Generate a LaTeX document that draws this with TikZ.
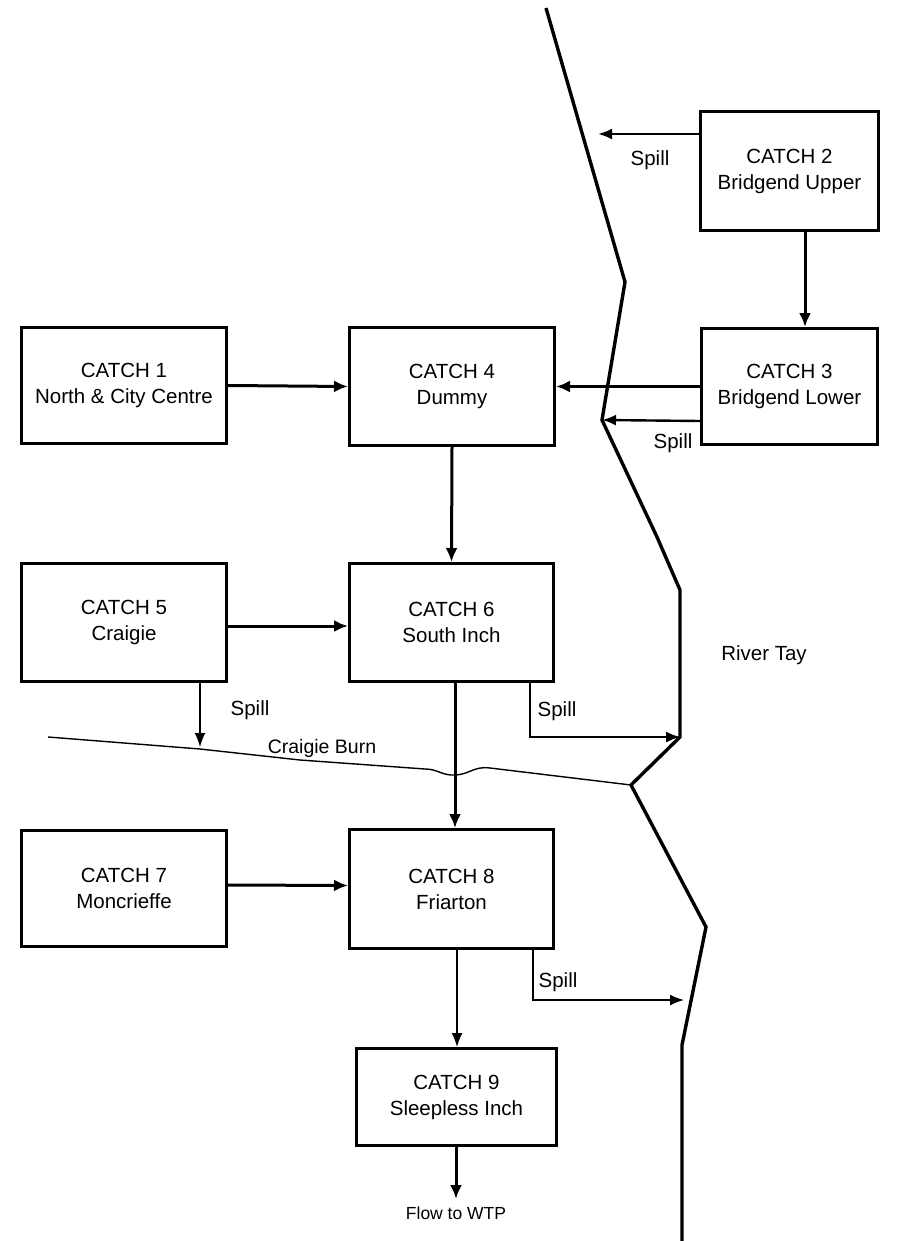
\documentclass[tikz,border=0pt]{standalone}
\usepackage{fontspec}
\setmainfont{Liberation Sans}
\usetikzlibrary{arrows.meta}
\begin{document}
\begin{tikzpicture}[x=1pt,y=-1pt,
  box/.style={draw, line width=3pt, inner sep=0pt, align=center, font=\fontsize{20.5}{26}\selectfont},
  arr/.style={line width=3pt, -{Latex[length=14pt,width=12pt]}},
  midarr/.style={line width=2.4pt, -{Latex[length=14pt,width=11pt]}},
  thinarr/.style={line width=1.6pt, -{Latex[length=14pt,width=11pt]}},
  lbl/.style={font=\fontsize{20.5}{24}\selectfont, inner sep=0pt},
  river/.style={line width=3.4pt, line join=miter}
]
\useasboundingbox (0,0) rectangle (910,1241);
% boxes
\node[box, minimum width=205pt, minimum height=116pt] (c1) at (124,385.5) {CATCH 1\\North \& City Centre};
\node[box, minimum width=178pt, minimum height=119pt] (c2) at (789.5,171) {CATCH 2\\Bridgend Upper};
\node[box, minimum width=176pt, minimum height=116pt] (c3) at (789.5,386.5) {CATCH 3\\Bridgend Lower};
\node[box, minimum width=205pt, minimum height=118pt] (c4) at (452,386.5) {CATCH 4\\Dummy};
\node[box, minimum width=205pt, minimum height=118pt] (c5) at (124,622.5) {CATCH 5\\Craigie};
\node[box, minimum width=204pt, minimum height=118pt] (c6) at (451.5,622.5) {CATCH 6\\South Inch};
\node[box, minimum width=205pt, minimum height=116pt] (c7) at (124,888.5) {CATCH 7\\Moncrieffe};
\node[box, minimum width=204pt, minimum height=119pt] (c8) at (451.5,889) {CATCH 8\\Friarton};
\node[box, minimum width=200pt, minimum height=97pt] (c9) at (456.5,1097) {CATCH 9\\Sleepless Inch};
% river
\coordinate (r0) at (546,8);
\coordinate (r1) at (625,282);
\coordinate (r2) at (602,420);
\coordinate (r3) at (657,537);
\coordinate (r4) at (680,590);
\coordinate (r5) at (680,737);
\coordinate (r6) at (631,785);
\coordinate (r7) at (706,927);
\coordinate (r8) at (682,1045);
\coordinate (r9) at (682,1241);
\draw[river] (r0) -- (r1) -- (r2) -- (r3) -- (r4) -- (r5) -- (r6) -- (r7) -- (r8) -- (r9);
% Craigie Burn
\coordinate (b0) at (48,737);
\draw[line width=1.4pt] (b0) -- (200,749) -- (300,760) -- (425,769)
  .. controls (438,769) and (442,776) .. (456,775)
  .. controls (470,774) and (474,766) .. (490,768) -- (r6);
\node[lbl, font=\fontsize{19.5}{22}\selectfont] (burn) at (322,748) {Craigie Burn};
\node[lbl, font=\fontsize{20.5}{24}\selectfont] (tay) at (764,655) {River Tay};
% spill end points
\coordinate (s2) at (598,134);
\coordinate (s5) at (200,747);
\coordinate (s8) at (684,1000);
% connectors
\draw[arr] ([xshift=15.5pt]c2.south) -- ([xshift=15.5pt]c3.north);
\draw[midarr] ([yshift=37pt]c2.west) -- (s2);
\node[lbl] (sp2) at (650,160) {Spill};
\draw[arr] (c3.west) -- (c4.east);
\draw[midarr] ([yshift=-34.5pt]c3.west) -- (r2);
\node[lbl] (sp3) at (673,443) {Spill};
\draw[arr] (c1.east) -- (c4.west);
\draw[arr] (c4.south) -- (c6.north);
\draw[arr] ([yshift=-3.5pt]c5.east) -- ([yshift=-3.5pt]c6.west);
\draw[thinarr] (c5.south -| s5) -- (s5);
\node[lbl] (sp5) at (250,710) {Spill};
\draw[thinarr] ([xshift=78.5pt]c6.south) |- (r5);
\node[lbl] (sp6) at (557,711) {Spill};
\draw[arr] ([xshift=3.5pt]c6.south) -- ([xshift=3.5pt]c8.north);
\draw[arr] ([yshift=3.5pt]c7.east) -- ([yshift=3.5pt]c8.west);
\draw[thinarr] ([xshift=5.5pt]c8.south) -- ([xshift=0.5pt]c9.north);
\draw[thinarr] ([xshift=81.5pt]c8.south) |- (s8);
\node[lbl] (sp8) at (558,982) {Spill};
\coordinate (w) at (456,1199);
\draw[arr] ([xshift=-0.5pt]c9.south) -- (w);
\node[lbl, font=\fontsize{17.5}{20}\selectfont] (wtp) at (456,1213) {Flow to WTP};
\end{tikzpicture}
\end{document}
